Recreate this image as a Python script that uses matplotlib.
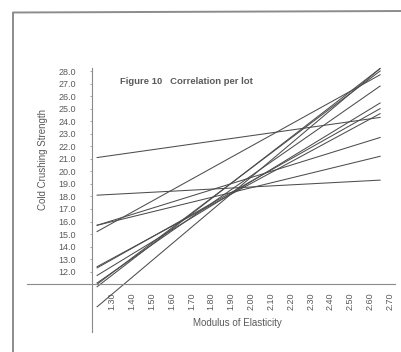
import matplotlib
matplotlib.use("Agg")
import matplotlib.pyplot as plt
from matplotlib.lines import Line2D

plt.rcParams["font.family"] = ["Liberation Sans", "DejaVu Sans"]

# regression line per lot, drawn between two modulus values
lot_x = [1.225, 2.65]
lot_start = [21.1, 18.1, 15.7, 15.7, 15.2, 12.4, 12.3, 11.7, 11.1, 11.0, 10.8, 9.2]
lot_end = [24.3, 19.3, 21.2, 22.7, 27.7, 24.6, 25.0, 25.45, 26.8, 28.0, 28.2, 28.2]

x_ticks = [1.30, 1.40, 1.50, 1.60, 1.70, 1.80, 1.90, 2.00, 2.10, 2.20, 2.30, 2.40, 2.50, 2.60, 2.70]
y_ticks = [12.0, 13.0, 14.0, 15.0, 16.0, 17.0, 18.0, 19.0, 20.0, 21.0, 22.0, 23.0,
           24.0, 25.0, 26.0, 27.0, 28.0]

W, H = 402, 352
fig = plt.figure(figsize=(W / 100, H / 100), dpi=100)
ax = fig.add_axes([27 / W, (H - 332) / H, (395 - 27) / W, (332 - 68) / H])

ink = "#4d4d4d"
txt = "#5a5a5a"
for s, e in zip(lot_start, lot_end):
    ax.plot(lot_x, [s, e], color=ink, lw=0.75)

ax.set_xlim(0.872, 2.725)
ax.set_ylim(7.19, 28.24)
ax.spines["top"].set_visible(False)
ax.spines["right"].set_visible(False)
ax.spines["left"].set_position(("data", 1.20))
ax.spines["bottom"].set_position(("data", 11.0))
for sp in ("left", "bottom"):
    ax.spines[sp].set_color("#8a8a8a")
    ax.spines[sp].set_linewidth(0.8)

ax.set_xticks(x_ticks)
ax.set_xticklabels([f"{v:.2f}" for v in x_ticks], rotation=90)
ax.set_yticks(y_ticks)
ax.set_yticklabels([f"{v:.1f}" for v in y_ticks])
ax.tick_params(axis="x", length=0, pad=6, labelsize=6.5, labelcolor=txt)
ax.tick_params(axis="y", length=1.5, width=0.6, color="#9a9a9a", pad=10,
               labelsize=6.5, labelcolor=txt)
ax.patch.set_alpha(0)

fig.text(120 / W, 1 - 82 / H, "Figure 10   Correlation per lot", fontsize=6.8,
         fontweight="bold", color=txt, ha="left", va="center")
fig.text(237 / W, 1 - 323 / H, "Modulus of Elasticity", fontsize=7, color=txt,
         ha="center", va="center")
fig.text(43 / W, 1 - 160 / H, "Cold Crushing Strength", fontsize=7, color=txt,
         rotation=90, ha="center", va="center")

# scanned page frame
frame = dict(color="#8c8c8c", lw=1.4, transform=fig.transFigure)
fig.add_artist(Line2D([13.5 / W, 13.5 / W], [1 - 12.5 / H, 0], **frame))
fig.add_artist(Line2D([13.5 / W, 1], [1 - 12.5 / H, 1 - 11 / H], **frame))

fig.savefig("out.png", dpi=100)
